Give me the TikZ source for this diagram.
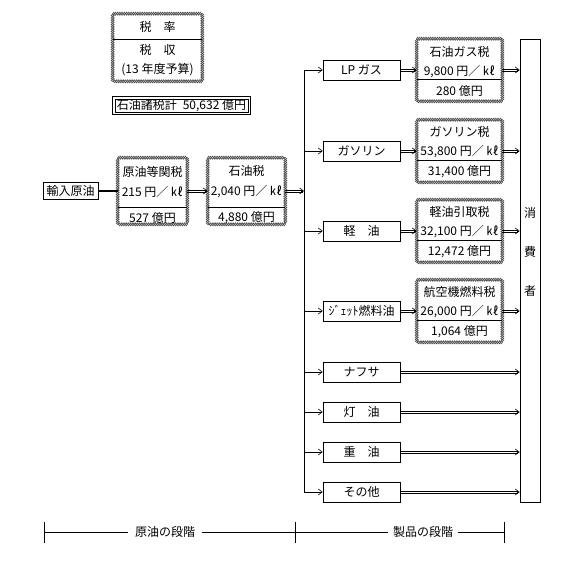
\documentclass[tikz,border=0pt]{standalone}
\usepackage{fontspec}
\setmainfont{Noto Sans CJK JP}
\usetikzlibrary{decorations.pathmorphing, arrows.meta}
\newcommand\chainbox[1]{%
  \foreach \ca/\cb in {north west/north east, north east/south east, south east/south west, south west/north west}{
    \draw[chainA] (#1.\ca) -- (#1.\cb);
    \draw[chainB] (#1.\ca) -- (#1.\cb);
  }}
\newcommand\dblarr[2]{%
  \draw ([yshift=1.1pt]#1) -- ([yshift=1.1pt,xshift=-1.5pt]#2);
  \draw ([yshift=-1.1pt]#1) -- ([yshift=-1.1pt,xshift=-1.5pt]#2);
  \draw[barb] ([xshift=-3pt]#2) -- (#2);}
\begin{document}
\begin{tikzpicture}[x=1pt,y=-1pt, font=\fontsize{12}{14}\selectfont, line width=0.6pt,
  prod/.style={draw, minimum width=77pt, minimum height=20pt, inner sep=0pt},
  taxbox/.style={minimum width=85pt, minimum height=62pt, inner sep=0pt},
  chainA/.style={draw=black!70, line width=0.6pt, decorate, decoration={snake, segment length=3.6pt, amplitude=1.5pt}},
  chainB/.style={draw=black!70, line width=0.6pt, decorate, decoration={snake, segment length=3.6pt, amplitude=-1.5pt}},
  barb/.style={-{Straight Barb[length=4pt,width=6pt]}},
  rows/.style={align=center, inner sep=0pt, font=\fontsize{12}{19.5}\selectfont}
]
\useasboundingbox (0,0) rectangle (561,570);

% legend
\node[minimum width=89pt, minimum height=67pt, inner sep=0pt] (leg) at (157.5,47.5) {};
\chainbox{leg}
\draw ([yshift=8.5pt]leg.west) -- ([yshift=8.5pt]leg.east);
\node[align=center, inner sep=0pt, font=\fontsize{12}{19}\selectfont] (legt) at (157.5,48.5) {税　率\\[4pt]税　収\\(13 年度予算)};

\node[draw, minimum width=133pt, minimum height=13pt, inner sep=0pt] (tot) at (181.5,105.5) {石油諸税計\hspace{6pt}50,632 億円};
\draw ([shift={(-2pt,2pt)}]tot.north west) rectangle ([shift={(2pt,-2pt)}]tot.south east);

% crude stage
\node[draw, minimum width=55pt, minimum height=17pt, inner sep=0pt] (imp) at (70.5,191) {輸入原油};
\node[minimum width=69pt, minimum height=66pt, inner sep=0pt] (b1) at (152.5,191) {};
\chainbox{b1}
\draw ([yshift=-16pt]b1.west) -- ([yshift=-16pt]b1.east);
\node[rows, font=\fontsize{12}{20}\selectfont] (b1t) at (152.5,195) {原油等関税\\215 円／ ㎘\\[6pt]527 億円};
\node[minimum width=77pt, minimum height=66pt, inner sep=0pt] (b2) at (246.5,191) {};
\chainbox{b2}
\draw ([yshift=-16pt]b2.west) -- ([yshift=-16pt]b2.east);
\node[rows, font=\fontsize{12}{20}\selectfont] (b2t) at (246.5,195) {石油税\\2,040 円／ ㎘\\[6pt]4,880 億円};

\draw[line width=1.8pt] (imp.east) -- (b1.west);
\dblarr{b1.east}{b2.west}
\coordinate (tin) at (304,191);
\dblarr{b2.east}{tin}

% trunk
\coordinate (tt) at (304,70);
\coordinate (tb) at (304,492);
\draw (tt) -- (tb);

% products
\node[prod] (lp)  at (361.5,70)  {LP ガス};
\node[prod] (gas) at (361.5,151) {ガソリン};
\node[prod] (kei) at (361.5,231) {軽　油};
\node[prod] (jet) at (361.5,311) {ｼﾞｪｯﾄ燃料油};
\node[prod] (nap) at (361.5,372) {ナフサ};
\node[prod] (tou) at (361.5,412) {灯　油};
\node[prod] (juu) at (361.5,452) {重　油};
\node[prod] (oth) at (361.5,492) {その他};
\foreach \p in {lp,gas,kei,jet,nap,tou,juu,oth}{
  \draw[barb] (tt |- \p.west) -- (\p.west);
}

% consumer
\node[draw, minimum width=20pt, minimum height=463pt, inner sep=0pt] (cons) at (530,270.5) {};
\node[align=center, inner sep=0pt, font=\fontsize{12}{39}\selectfont] (const) at (530,252) {消\\費\\者};

% tax boxes
\node[taxbox] (t1) at (459.5,70) {};
\node[taxbox] (t2) at (459.5,151) {};
\node[taxbox] (t3) at (459.5,231) {};
\node[taxbox] (t4) at (459.5,311) {};
\foreach \t in {t1,t2,t3,t4}{
  \chainbox{\t}
  \draw ([yshift=-9pt]\t.west) -- ([yshift=-9pt]\t.east);
}
\node[rows] (t1t) at (459.5,71)  {石油ガス税\\9,800 円／ ㎘\\280 億円};
\node[rows] (t2t) at (459.5,152) {ガソリン税\\53,800 円／ ㎘\\31,400 億円};
\node[rows] (t3t) at (459.5,232) {軽油引取税\\32,100 円／ ㎘\\12,472 億円};
\node[rows] (t4t) at (459.5,312) {航空機燃料税\\26,000 円／ ㎘\\1,064 億円};

\dblarr{lp.east}{t1.west}
\dblarr{gas.east}{t2.west}
\dblarr{kei.east}{t3.west}
\dblarr{jet.east}{t4.west}
\coordinate (c1) at (cons.west |- t1.east);
\coordinate (c2) at (cons.west |- t2.east);
\coordinate (c3) at (cons.west |- t3.east);
\coordinate (c4) at (cons.west |- t4.east);
\dblarr{t1.east}{c1}
\dblarr{t2.east}{c2}
\dblarr{t3.east}{c3}
\dblarr{t4.east}{c4}
\coordinate (c5) at (cons.west |- nap.east);
\coordinate (c6) at (cons.west |- tou.east);
\coordinate (c7) at (cons.west |- juu.east);
\coordinate (c8) at (cons.west |- oth.east);
\dblarr{nap.east}{c5}
\dblarr{tou.east}{c6}
\dblarr{juu.east}{c7}
\dblarr{oth.east}{c8}

% stages
\coordinate (sL) at (44,532);
\coordinate (sM) at (295,532);
\coordinate (sR) at (504,532);
\draw (sL) -- (sR);
\foreach \c in {sL,sM,sR}{
  \draw ([yshift=10pt]\c) -- ([yshift=-11pt]\c);
}
\node[fill=white, inner xsep=7pt, inner ysep=1pt] (st1) at (165,532) {原油の段階};
\node[fill=white, inner xsep=5pt, inner ysep=1pt] (st2) at (423,532) {製品の段階};
\end{tikzpicture}
\end{document}
